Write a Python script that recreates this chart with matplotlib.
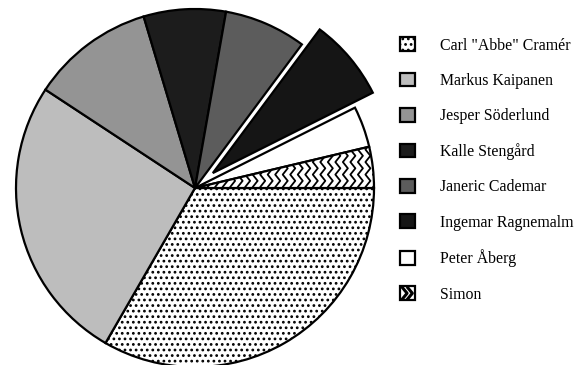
import numpy as np
import matplotlib
matplotlib.use('Agg')
import matplotlib.pyplot as plt
from matplotlib.patches import Rectangle
from matplotlib.lines import Line2D
from matplotlib.legend_handler import HandlerBase

plt.rcParams['font.family'] = ['Liberation Serif', 'DejaVu Serif']
plt.rcParams['hatch.linewidth'] = 1.2

names = ['Carl "Abbe" Cramér', 'Markus Kaipanen', 'Jesper Söderlund',
         'Kalle Stengård', 'Janeric Cademar', 'Ingemar Ragnemalm',
         'Peter Åberg', 'Simon']
counts = [9, 7, 3, 2, 2, 2, 1, 1]
explode = [0, 0, 0, 0, 0, 0.13, 0, 0]

faces = ['white', '#bdbdbd', '#949494', '#1c1c1c', '#5c5c5c', '#151515', 'white', 'white']
hatches = ['...', None, None, None, None, None, None, None]


class ZigzagHandler(HandlerBase):
    # little white box with chevrons, like the Simon slice
    def create_artists(self, legend, orig_handle, xdescent, ydescent,
                       width, height, fontsize, trans):
        x0, y0 = -xdescent, -ydescent
        box = Rectangle((x0, y0), width, height, facecolor='white',
                        edgecolor='black', lw=1.6, transform=trans)
        arts = [box]
        for fx in (0.15, 0.5):
            xs = x0 + width * np.array([fx, fx + 0.3, fx])
            ys = y0 + height * np.array([0.1, 0.5, 0.9])
            arts.append(Line2D(xs, ys, color='black', lw=2.2, transform=trans))
        return arts


fig = plt.figure(figsize=(5.76, 3.65), dpi=100)
R = 179          # pie radius in pixels
cx, cy = 195, 188
lim = 1.2
side = R * lim * 2
ax = fig.add_axes([(cx - side / 2) / 576, (365 - cy - side / 2) / 365,
                   side / 576, side / 365])

wedges, _ = ax.pie(counts, explode=explode, startangle=0, counterclock=False,
                   colors=faces, radius=1,
                   wedgeprops=dict(edgecolor='black', linewidth=1.6))
for w, h in zip(wedges, hatches):
    if h:
        w.set_hatch(h)

# zigzag texture for Simon's slice
simon = wedges[-1]
for x0 in np.arange(0.0, 1.05, 0.042):
    ys = np.arange(-0.03, 0.32, 0.035)
    xs = x0 + 0.014 * (-1) ** np.arange(len(ys))
    ln, = ax.plot(xs, ys, color='black', lw=1.3)
    ln.set_clip_path(simon)

ax.set_xlim(-lim, lim)
ax.set_ylim(-lim, lim)
ax.set_aspect('equal')
ax.axis('off')

fig.legend(wedges, names, loc='upper left', bbox_to_anchor=(394 / 576, 1 - 31 / 365),
           frameon=False, fontsize=11.4, handlelength=0.95, handleheight=0.95,
           handletextpad=1.55, labelspacing=1.2, borderaxespad=0,
           handler_map={simon: ZigzagHandler()})

plt.savefig('out.png', dpi=100)
